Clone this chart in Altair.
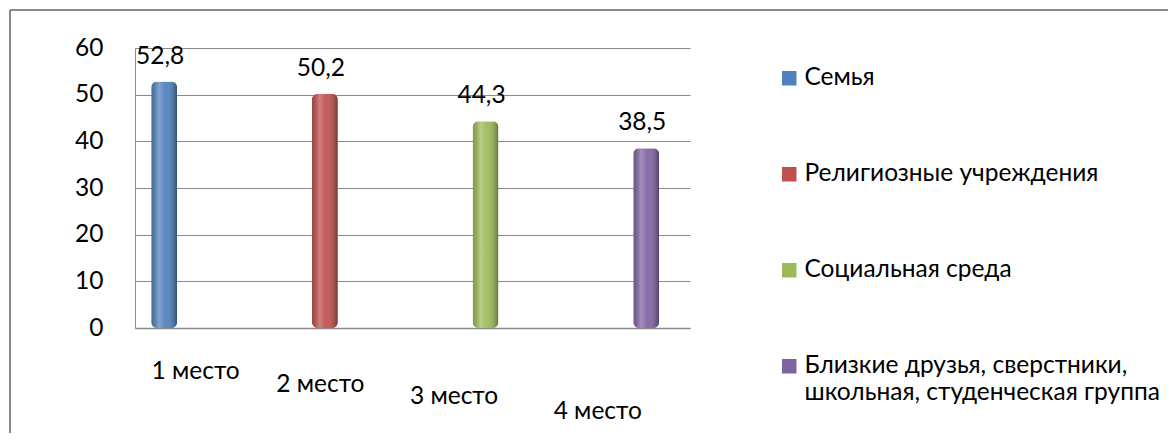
import altair as alt
import pandas as pd

places = ["1 место", "2 место", "3 место", "4 место"]
groups = ["Семья", "Религиозные учреждения", "Социальная среда",
          "Близкие друзья, сверстники,\nшкольная, студенческая группа"]
values = [52.8, 50.2, 44.3, 38.5]
colors = ["#4F81BD", "#C0504D", "#9BBB59", "#8064A2"]
y_ticks = [0, 10, 20, 30, 40, 50, 60]

df = pd.DataFrame({"place": places, "group": groups, "value": values})

FONT = "Lato"
FS = 24.5
GRID = "#8a8a8a"
W, H = 555, 280

x_axis = alt.Axis(
    labelAngle=0, ticks=False, grid=False, domainColor=GRID, domainWidth=1.5,
    labelFont=FONT, labelFontSize=FS, labelColor="#000", labelBaseline="top",
    labelPadding={"condition": [
        {"test": "datum.value == '2 место'", "value": 44},
        {"test": "datum.value == '3 место'", "value": 56},
        {"test": "datum.value == '4 место'", "value": 71}], "value": 31},
    labelOffset={"condition": [
        {"test": "datum.value == '2 место'", "value": -5},
        {"test": "datum.value == '3 место'", "value": -32},
        {"test": "datum.value == '4 место'", "value": -49}], "value": 31},
)
y_axis = alt.Axis(values=y_ticks, ticks=False, domainColor=GRID, gridColor=GRID,
                  gridWidth=1, labelFont=FONT, labelFontSize=FS, labelColor="#000",
                  labelPadding=32)

x_enc = alt.X("place:N", sort=places, title=None,
              scale=alt.Scale(type="point", padding=0.227, align=0.4), axis=x_axis)
y_enc = alt.Y("value:Q", title=None, scale=alt.Scale(domain=[0, 60], nice=False),
              axis=y_axis)

base = alt.Chart(df)

bars = base.mark_bar(size=26, cornerRadius=6).encode(
    x=x_enc, y=y_enc,
    color=alt.Color(
        "group:N", sort=groups,
        scale=alt.Scale(domain=groups, range=colors),
        legend=alt.Legend(
            orient="none", legendX=642, legendY=18, title=None,
            symbolType="square", symbolSize=210, symbolStrokeWidth=0, symbolOpacity=1,
            labelFont=FONT, labelFontSize=FS, labelColor="#000", labelLimit=500,
            labelOffset=3, rowPadding=71, direction="vertical",
            labelExpr="split(datum.label, '\\n')",
        ),
    ),
)

shade = base.mark_bar(
    size=26, cornerRadius=6,
    fill=alt.Gradient(
        gradient="linear", x1=0, x2=1, y1=0, y2=0,
        stops=[
            alt.GradientStop(offset=0, color="rgba(0,0,0,0.18)"),
            alt.GradientStop(offset=0.3, color="rgba(255,255,255,0.28)"),
            alt.GradientStop(offset=0.55, color="rgba(255,255,255,0.05)"),
            alt.GradientStop(offset=1, color="rgba(0,0,0,0.38)"),
        ],
    ),
).encode(x=x_enc, y=y_enc)

labels = base.transform_calculate(
    lab="replace(format(datum.value, '.1f'), '.', ',')"
).mark_text(font=FONT, fontSize=FS, color="#000", baseline="bottom", dy=-13, dx=-4).encode(
    x=x_enc, y=y_enc, text="lab:N"
)

frame_data = alt.Data(values=[{}])
frame_top = alt.Chart(frame_data).mark_rule(color=GRID, strokeWidth=2).encode(
    x=alt.value(-125), x2=alt.value(1400), y=alt.value(-38))
frame_left = alt.Chart(frame_data).mark_rule(color=GRID, strokeWidth=2).encode(
    x=alt.value(-125), y=alt.value(-38), y2=alt.value(600))

chart = alt.layer(frame_top, frame_left, bars, shade, labels).properties(
    width=W, height=H,
    autosize=alt.AutoSizeParams(type="none"),
    padding={"left": 127, "top": 40, "right": 478, "bottom": 105},
    background="white",
).configure_view(stroke=None)

chart.save("out.html", embed_options={"renderer": "svg", "actions": False})
